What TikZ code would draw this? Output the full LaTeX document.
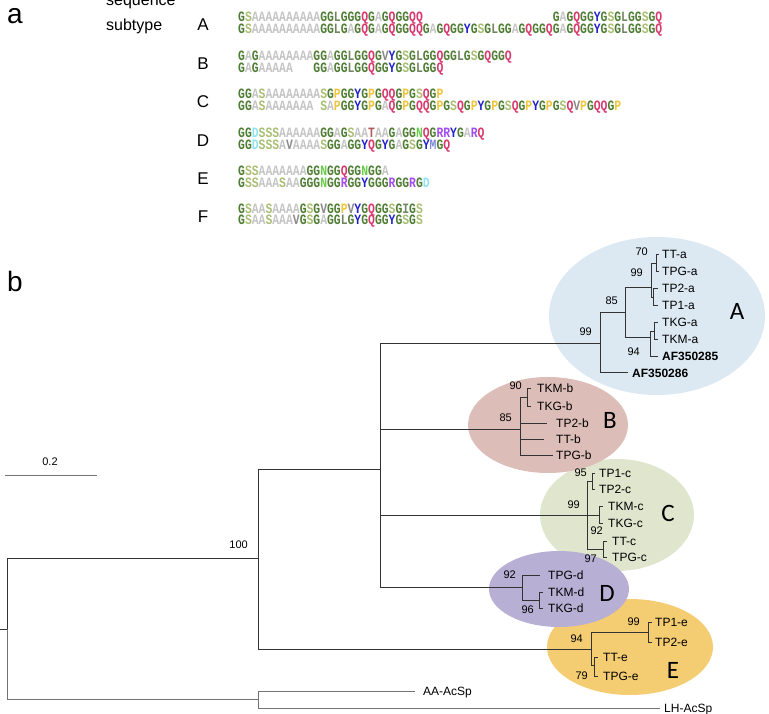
\documentclass[tikz,border=0pt]{standalone}
\usepackage{fontspec}
\usepackage{graphicx}
\setmainfont{Liberation Sans}
\newfontfamily\seqfamily{Liberation Mono}
\newfontfamily\bigfamily{Carlito}
\definecolor{aaG}{HTML}{4E7D33}
\definecolor{aaS}{HTML}{A9BE72}
\definecolor{aaA}{HTML}{C4C4C4}
\definecolor{aaL}{HTML}{728562}
\definecolor{aaI}{HTML}{728562}
\definecolor{aaQ}{HTML}{D8386E}
\definecolor{aaY}{HTML}{2020CC}
\definecolor{aaP}{HTML}{F0C43C}
\definecolor{aaV}{HTML}{8A8A8A}
\definecolor{aaN}{HTML}{6ACD4A}
\definecolor{aaR}{HTML}{A24CF0}
\definecolor{aaD}{HTML}{8EE4F0}
\definecolor{aaT}{HTML}{B05A5A}
\definecolor{aaM}{HTML}{7C88D8}
\definecolor{ellA}{HTML}{DCE9F2}
\definecolor{ellB}{HTML}{DDBDB8}
\definecolor{ellC}{HTML}{DFE6CD}
\definecolor{ellD}{HTML}{B8AFD4}
\definecolor{ellE}{HTML}{F4CC72}
\makeatletter
\def\sq@loop#1{\ifx#1\relax\else\sq@char#1\expandafter\sq@loop\fi}
\def\sq@char#1{\hbox to 6.84pt{\hss\if.#1\else\textcolor{aa#1}{#1}\fi\hss}}
\newcommand\seqrow[1]{\scalebox{1}[1.25]{\sq@loop#1\relax}}
\makeatother
\tikzset{
  seq/.style={anchor=west, inner sep=0pt, font=\seqfamily\bfseries\fontsize{11.4}{11.4}\selectfont, text height=8.6pt, text depth=1pt},
  leaf/.style={anchor=west, inner sep=0pt, font=\fontsize{12}{12}\selectfont, text height=8.6pt, text depth=0pt},
  boot/.style={anchor=east, inner sep=0pt, font=\fontsize{11}{11}\selectfont, text height=7.9pt, text depth=0pt},
  sub/.style={anchor=center, inner sep=0pt, font=\fontsize{17}{17}\selectfont, text height=12.2pt, text depth=0pt},
  hdr/.style={anchor=west, inner sep=0pt, font=\fontsize{16}{16}\selectfont},
  panel/.style={anchor=center, inner sep=0pt, font=\fontsize{28}{28}\selectfont},
  clade/.style={anchor=center, inner sep=0pt, font=\bigfamily\fontsize{25}{25}\selectfont},
  br/.style={draw=black!80, line width=0.9pt},
  obr/.style={draw=black!55, line width=0.9pt},
}
\begin{document}
\begin{tikzpicture}[x=1pt,y=-1pt]
\useasboundingbox (0,0) rectangle (769,714);
% ---------------- panel a ----------------
\node[panel] (pa) at (15,16) {a};
\node[hdr] (hseq) at (106,3) {sequence};
\node[hdr] (hsub) at (106,26) {subtype};
\node[sub] (lA) at (203,24) {A};
\node[sub] (lB) at (203,63) {B};
\node[sub] (lC) at (203,101) {C};
\node[sub] (lD) at (203,140) {D};
\node[sub] (lE) at (203,178) {E};
\node[sub] (lF) at (203,216) {F};
\node[seq] (sA1) at (238,18) {\seqrow{GSAAAAAAAAAAGGLGGGQGAGQGGQQ...................GAGQGGYGSGLGGSGQ}};
\node[seq] (sA2) at (238,30) {\seqrow{GSAAAAAAAAAAGGLGAGQGAGQGGQQGAGQGGYGSGLGGAGQGGQGAGQGGYGSGLGGSGQ}};
\node[seq] (sB1) at (238,57) {\seqrow{GAGAAAAAAAAGGAGGLGGQGVYGSGLGGQGGLGSGQGGQ}};
\node[seq] (sB2) at (238,69) {\seqrow{GAGAAAAA...GGAGGLGGQGGYGSGLGGQ}};
\node[seq] (sC1) at (238,95) {\seqrow{GGASAAAAAAAASGPGGYGPGQQGPGSQGP}};
\node[seq] (sC2) at (238,107) {\seqrow{GGASAAAAAAA.SAPGGYGPGAQGPGQQGPGSQGPYGPGSQGPYGPGSQVPGQQGP}};
\node[seq] (sD1) at (238,134) {\seqrow{GGDSSSAAAAAAGGAGSAATAAGAGGNQGRRYGARQ}};
\node[seq] (sD2) at (238,146) {\seqrow{GGDSSSAVAAAASGGAGGYQGYGAGSGYMGQ}};
\node[seq] (sE1) at (238,172) {\seqrow{GSSAAAAAAAGGNGGQGGNGGA}};
\node[seq] (sE2) at (238,184) {\seqrow{GSSAAASAAGGGNGGRGGYGGGRGGRGD}};
\node[seq] (sF1) at (238,210) {\seqrow{GSAASAAAAGSGVGGPVYGQGGSGIGS}};
\node[seq] (sF2) at (238,221) {\seqrow{GSAASAAAVGSGAGGLGYGQGGYGSGS}};
% ---------------- panel b ----------------
\node[panel] (pb) at (15,281) {b};
% ellipses
\fill[ellA] (657,316) ellipse [x radius=108, y radius=79];
\fill[ellC] (617,515) ellipse [x radius=77, y radius=56];
\fill[ellB] (548,425) ellipse [x radius=80, y radius=48];
\fill[ellE] (630,647) ellipse [x radius=83, y radius=48];
\fill[ellD] (559,589) ellipse [x radius=70, y radius=38];
\node[clade] (cA) at (737,311) {A};
\node[clade] (cB) at (610,420) {B};
\node[clade] (cC) at (668,513) {C};
\node[clade] (cD) at (607,593) {D};
\node[clade] (cE) at (673,670) {E};
% scale bar
\coordinate (sb1) at (5,475);
\coordinate (sb2) at (97,475);
\draw[obr] (sb1) -- (sb2);
\node[boot, anchor=center] (sbl) at (50,462) {0.2};
% internal node coordinates
\coordinate (rootstub) at (0,629);
\coordinate (root) at (7,629);
\coordinate (n100) at (258,558);
\coordinate (nOut) at (258,699);
\coordinate (n380) at (380,469);
\coordinate (nE94) at (591,649);
\coordinate (nA99) at (600,343);
\coordinate (nB85) at (520,429);
\coordinate (nC99) at (587,515);
\coordinate (nD92) at (522,587);
\coordinate (nA85) at (625,312);
\coordinate (nA99b) at (651,287);
\coordinate (nA70) at (656,263);
\coordinate (nA12) at (653,297);
\coordinate (nA94) at (650,337);
\coordinate (nA13) at (654,331);
\coordinate (nB90) at (527,397);
\coordinate (nC95) at (592,481);
\coordinate (nC92) at (599,515);
\coordinate (nC97) at (603,549);
\coordinate (nD96) at (539,600);
\coordinate (nE99) at (648,632);
\coordinate (nE79) at (594,665);
% leaf end coordinates
\coordinate (lAA) at (415,691);
\coordinate (lLH) at (660,708);
\coordinate (lTTa) at (659,254);
\coordinate (lTPGa) at (659,271);
\coordinate (lTP2a) at (658,288);
\coordinate (lTP1a) at (658,305);
\coordinate (lTKGa) at (658,322);
\coordinate (lTKMa) at (658,339);
\coordinate (lAF285) at (658,356);
\coordinate (lAF286) at (628,372);
\coordinate (lTKMb) at (531,388);
\coordinate (lTKGb) at (531,406);
\coordinate (lTP2b) at (547,423);
\coordinate (lTTb) at (544,439);
\coordinate (lTPGb) at (553,455);
\coordinate (lTP1c) at (595,473);
\coordinate (lTP2c) at (595,489);
\coordinate (lTKMc) at (603,506);
\coordinate (lTKGc) at (603,523);
\coordinate (lTTc) at (607,541);
\coordinate (lTPGc) at (607,557);
\coordinate (lTPGd) at (540,575);
\coordinate (lTKMd) at (543,592);
\coordinate (lTKGd) at (543,608);
\coordinate (lTP1e) at (652,622);
\coordinate (lTP2e) at (652,642);
\coordinate (lTTe) at (598,657);
\coordinate (lTPGe) at (598,676);
% branches
\draw[br] (rootstub) -- (root);
\draw[br] (root) |- (n100);
\draw[obr] (root) |- (nOut);
\draw[obr] (nOut) |- (lAA);
\draw[obr] (nOut) |- (lLH);
\draw[br] (n100) |- (n380);
\draw[br] (n100) |- (nE94);
\draw[br] (n380) |- (nA99);
\draw[br] (n380) |- (nB85);
\draw[br] (n380) |- (nC99);
\draw[br] (n380) |- (nD92);
% clade A
\draw[br] (nA99) |- (nA85);
\draw[br] (nA99) |- (lAF286);
\draw[br] (nA85) |- (nA99b);
\draw[br] (nA85) |- (nA94);
\draw[br] (nA99b) |- (nA70);
\draw[br] (nA99b) |- (nA12);
\draw[br] (nA70) |- (lTTa);
\draw[br] (nA70) |- (lTPGa);
\draw[br] (nA12) |- (lTP2a);
\draw[br] (nA12) |- (lTP1a);
\draw[br] (nA94) |- (nA13);
\draw[br] (nA94) |- (lAF285);
\draw[br] (nA13) |- (lTKGa);
\draw[br] (nA13) |- (lTKMa);
% clade B
\draw[br] (nB85) |- (nB90);
\draw[br] (nB90) |- (lTKMb);
\draw[br] (nB90) |- (lTKGb);
\draw[br] (nB85) |- (lTP2b);
\draw[br] (nB85) |- (lTTb);
\draw[br] (nB85) |- (lTPGb);
% clade C
\draw[br] (nC99) |- (nC95);
\draw[br] (nC99) |- (nC92);
\draw[br] (nC99) |- (nC97);
\draw[br] (nC95) |- (lTP1c);
\draw[br] (nC95) |- (lTP2c);
\draw[br] (nC92) |- (lTKMc);
\draw[br] (nC92) |- (lTKGc);
\draw[br] (nC97) |- (lTTc);
\draw[br] (nC97) |- (lTPGc);
% clade D
\draw[br] (nD92) |- (lTPGd);
\draw[br] (nD92) |- (nD96);
\draw[br] (nD96) |- (lTKMd);
\draw[br] (nD96) |- (lTKGd);
% clade E
\draw[br] (nE94) |- (nE99);
\draw[br] (nE94) |- (nE79);
\draw[br] (nE99) |- (lTP1e);
\draw[br] (nE99) |- (lTP2e);
\draw[br] (nE79) |- (lTTe);
\draw[br] (nE79) |- (lTPGe);
% leaf labels
\node[leaf] (tAA) at (423,691) {AA-AcSp};
\node[leaf] (tLH) at (664,708) {LH-AcSp};
\node[leaf] (tTTa) at (662,254) {TT-a};
\node[leaf] (tTPGa) at (662,271) {TPG-a};
\node[leaf] (tTP2a) at (662,288) {TP2-a};
\node[leaf] (tTP1a) at (662,305) {TP1-a};
\node[leaf] (tTKGa) at (662,322) {TKG-a};
\node[leaf] (tTKMa) at (662,339) {TKM-a};
\node[leaf, font=\bfseries\fontsize{12}{12}\selectfont] (tAF285) at (662,356) {AF350285};
\node[leaf, font=\bfseries\fontsize{12}{12}\selectfont] (tAF286) at (632,373) {AF350286};
\node[leaf] (tTKMb) at (537,388) {TKM-b};
\node[leaf] (tTKGb) at (537,406) {TKG-b};
\node[leaf] (tTP2b) at (556,423) {TP2-b};
\node[leaf] (tTTb) at (556,439) {TT-b};
\node[leaf] (tTPGb) at (556,455) {TPG-b};
\node[leaf] (tTP1c) at (599,473) {TP1-c};
\node[leaf] (tTP2c) at (599,489) {TP2-c};
\node[leaf] (tTKMc) at (608,506) {TKM-c};
\node[leaf] (tTKGc) at (608,523) {TKG-c};
\node[leaf] (tTTc) at (612,541) {TT-c};
\node[leaf] (tTPGc) at (612,557) {TPG-c};
\node[leaf] (tTPGd) at (548,575) {TPG-d};
\node[leaf] (tTKMd) at (548,592) {TKM-d};
\node[leaf] (tTKGd) at (548,608) {TKG-d};
\node[leaf] (tTP1e) at (655,622) {TP1-e};
\node[leaf] (tTP2e) at (655,642) {TP2-e};
\node[leaf] (tTTe) at (603,657) {TT-e};
\node[leaf] (tTPGe) at (603,676) {TPG-e};
% bootstrap values
\node[boot] (b100) at (248,545) {100};
\node[boot] (bA70) at (648,252) {70};
\node[boot] (bA99b) at (643,273) {99};
\node[boot] (bA85) at (618,301) {85};
\node[boot] (bA99) at (592,332) {99};
\node[boot] (bA94) at (640,352) {94};
\node[boot] (bB90) at (522,386) {90};
\node[boot] (bB85) at (512,418) {85};
\node[boot] (bC95) at (587,473) {95};
\node[boot] (bC99) at (580,505) {99};
\node[boot] (bC92) at (603,531) {92};
\node[boot] (bC97) at (597,559) {97};
\node[boot] (bD92) at (516,575) {92};
\node[boot] (bD96) at (534,610) {96};
\node[boot] (bE99) at (640,622) {99};
\node[boot] (bE94) at (583,639) {94};
\node[boot] (bE79) at (588,676) {79};
\end{tikzpicture}
\end{document}
